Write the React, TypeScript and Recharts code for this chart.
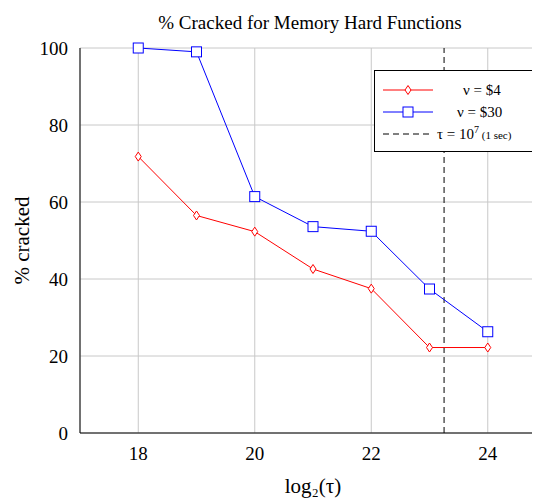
import React from 'react';
import { ComposedChart, Line, XAxis, YAxis, CartesianGrid, ReferenceLine } from 'recharts';

const taus = [18, 19, 20, 21, 22, 23, 24];
const cheap = [71.8, 56.5, 52.3, 42.6, 37.5, 22.2, 22.2];
const pricey = [100, 99, 61.4, 53.6, 52.4, 37.4, 26.3];
const xTicks = [18, 20, 22, 24];
const yTicks = [0, 20, 40, 60, 80, 100];
const data = taus.map((t, i) => ({ t, a: cheap[i], b: pricey[i] }));

const Diamond = (p: any) => (
  <path d={`M${p.cx},${p.cy - 4.5}L${p.cx + 3},${p.cy}L${p.cx},${p.cy + 4.5}L${p.cx - 3},${p.cy}Z`} fill="white" stroke="red" strokeWidth={1} />
);
const Square = (p: any) => (
  <rect x={p.cx - 5} y={p.cy - 5} width={10} height={10} fill="white" stroke="blue" strokeWidth={1} />
);
const font = '"Times New Roman", "Liberation Serif", serif';

export default function App() {
  return (
    <div style={{ position: 'relative', width: 540, height: 493, fontFamily: font }}>
      <div style={{ position: 'absolute', top: 4, left: 72, width: 460, textAlign: 'center', fontSize: 19 }}>
        % Cracked for Memory Hard Functions
      </div>
      <ComposedChart width={540} height={493} data={data} margin={{ top: 40, right: 2, left: 32, bottom: 38 }}>
        <CartesianGrid stroke="#c8c8c8" />
        <XAxis dataKey="t" type="number" domain={[17, 25]} ticks={xTicks} stroke="#000" tickLine={false}
          tick={{ fill: '#000', fontSize: 19, fontFamily: font }} height={30} tickMargin={8}
          label={{ value: 'log\u2082(\u03c4)', position: 'insideBottom', offset: -30, fill: '#000', fontSize: 21, fontFamily: font }} />
        <YAxis type="number" domain={[0, 100]} ticks={yTicks} stroke="#000" tickLine={false} width={40}
          tick={{ fill: '#000', fontSize: 19, fontFamily: font }} tickMargin={6}
          label={{ value: '% cracked', angle: -90, position: 'insideLeft', offset: -18, fill: '#000', fontSize: 21, fontFamily: font, style: { textAnchor: 'middle' } }} />
        <ReferenceLine x={23.25} stroke="#000" strokeDasharray="6 4" />
        <Line dataKey="a" stroke="red" strokeWidth={1} dot={<Diamond />} isAnimationActive={false} />
        <Line dataKey="b" stroke="blue" strokeWidth={1} dot={<Square />} isAnimationActive={false} />
      </ComposedChart>
      <div style={{ position: 'absolute', left: 366, top: 62, width: 166, height: 82, background: 'white', border: '1px solid #000', boxSizing: 'border-box' }}>
        <svg width={164} height={80} style={{ position: 'absolute', left: 0, top: 0 }}>
          <line x1={8} x2={58} y1={19} y2={19} stroke="red" />
          <path d="M33,14.5L36,19L33,23.5L30,19Z" fill="white" stroke="red" />
          <line x1={8} x2={58} y1={41} y2={41} stroke="blue" />
          <rect x={28} y={36} width={10} height={10} fill="white" stroke="blue" />
          <line x1={8} x2={55} y1={63} y2={63} stroke="#000" strokeDasharray="6 4" />
          <text x={88} y={24} fontSize={15} fontFamily={font}>ν = $4</text>
          <text x={82} y={46} fontSize={15} fontFamily={font}>ν = $30</text>
          <text x={62} y={68} fontSize={15} fontFamily={font}>τ = 10<tspan dy={-6} fontSize={10}>7</tspan><tspan dy={6} fontSize={11}> (1 sec)</tspan></text>
        </svg>
      </div>
    </div>
  );
}
